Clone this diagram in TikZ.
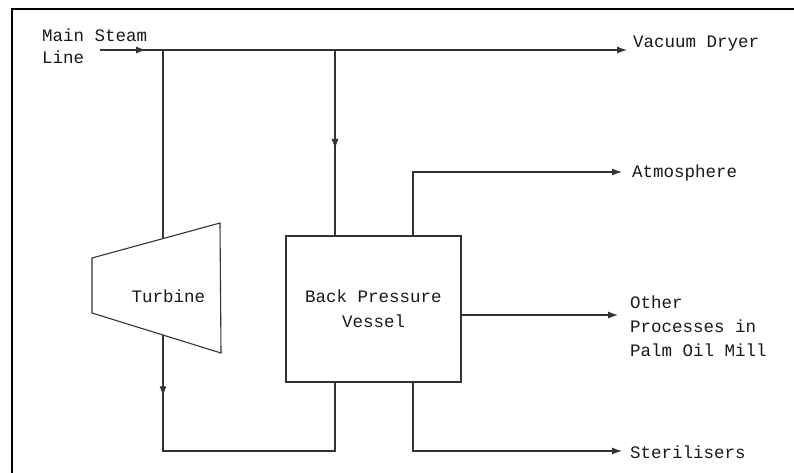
\documentclass[tikz,border=0pt]{standalone}
\usepackage{fontspec}
\setmonofont{Liberation Mono}
\usetikzlibrary{arrows.meta,decorations.markings}
\begin{document}
\begin{tikzpicture}[x=1pt,y=-1pt,
  flow/.style={line width=1.1pt, draw=black!80},
  tip/.style={-{Latex[length=10pt,width=7pt]}},
  midarrow/.style={postaction={decorate},
    decoration={markings, mark=at position #1 with {\arrow{Latex[length=10pt,width=7pt]}}}},
  lbl/.style={font=\ttfamily\fontsize{17.5}{24}\selectfont, text=black!90, anchor=west, align=left, inner sep=0pt},
  blk/.style={draw=black!80, line width=1.1pt}]
\useasboundingbox (0,0) rectangle (794,473);
% frame
\draw[line width=2.2pt] (12,473) -- (12,9) -- (794,9);

% labels
\node[lbl, font=\ttfamily\fontsize{17.5}{22}\selectfont] (msl) at (42,46) {Main Steam\\Line};
\node[lbl] (vdl) at (633,44) {Vacuum Dryer};
\node[lbl] (atl) at (632,173) {Atmosphere};
\node[lbl] (otl) at (630,326) {Other\\Processes in\\Palm Oil Mill};
\node[lbl] (stl) at (630,452) {Sterilisers};

% coordinates
\coordinate (ms) at (100,50);
\coordinate (j1) at (163,50);
\coordinate (j2) at (335,50);
\coordinate (vd) at (627,50);
\coordinate (t1) at (92,258);
\coordinate (t2) at (220,223);
\coordinate (t3) at (221,353);
\coordinate (t4) at (92,313);
\coordinate (tin) at (163,238.6);
\coordinate (tout) at (163,335.3);
\coordinate (lowL) at (163,451);
\coordinate (at) at (622,172);
\coordinate (ot) at (618,315);
\coordinate (st) at (622,451);

% turbine
\draw[blk] (t1) -- (t2) -- (t3) -- (t4) -- cycle;
\node[lbl, anchor=center] (turb) at (168.5,296) {Turbine};

% back pressure vessel
\node[blk, minimum width=175pt, minimum height=146pt, inner sep=0pt,
      font=\ttfamily\fontsize{17.5}{25}\selectfont, text=black!90, align=center]
      (bpv) at (373.5,309) {Back Pressure\\Vessel};

% connectors
\draw[flow, tip, midarrow=46pt] (ms) -- (vd);
\draw[flow] (j1) -- (tin);
\draw[flow, midarrow=99pt] (j2) -- (bpv.north -| j2);
\draw[flow, midarrow=61pt] (tout) -- (lowL) -| (bpv.south -| j2);
\draw[flow, tip] ([xshift=39.5pt]bpv.north) |- (at);
\draw[flow, tip] (bpv.east |- ot) -- (ot);
\draw[flow, tip] ([xshift=39.5pt]bpv.south) |- (st);
\end{tikzpicture}
\end{document}
